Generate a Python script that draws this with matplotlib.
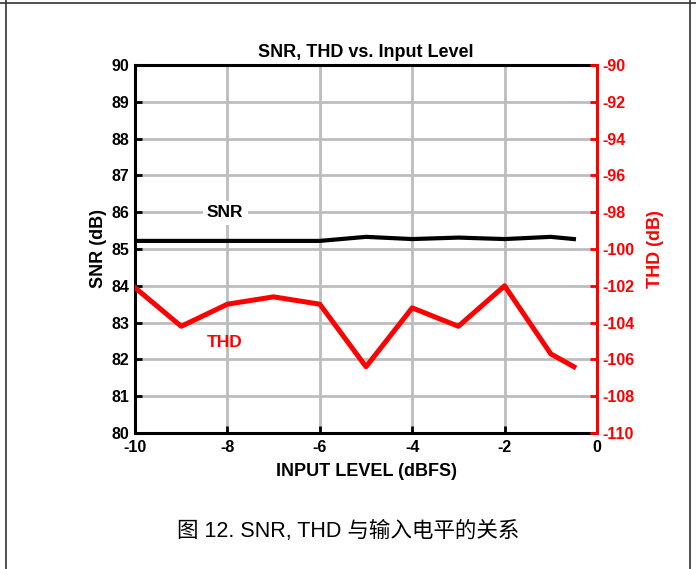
import matplotlib
matplotlib.use("Agg")
import matplotlib.pyplot as plt
from matplotlib.lines import Line2D

input_level = [-10, -9, -8, -7, -6, -5, -4, -3, -2, -1, -0.5]
snr_db = [85.22, 85.22, 85.22, 85.22, 85.22, 85.33, 85.27, 85.31, 85.27, 85.33, 85.27]
thd_db = [-102.1, -104.2, -103.0, -102.6, -103.0, -106.4, -103.2, -104.2, -102.0, -105.7, -106.4]
x_ticks = [-10, -8, -6, -4, -2, 0]
snr_ticks = list(range(80, 91))
thd_ticks = list(range(-110, -89, 2))

plt.rcParams['font.family'] = ['Liberation Sans', 'Noto Sans CJK SC', 'DejaVu Sans']

fig = plt.figure(figsize=(6.96, 5.69), dpi=100)
ax = fig.add_axes([135/696, 1 - 433/569, (597-135)/696, (433-65)/569])
ax2 = ax.twinx()

grid_c = '#bdbdbd'
for xv in x_ticks[1:-1]:
    ax.axvline(xv, color=grid_c, lw=2, zorder=1)
for yv in snr_ticks[1:-1]:
    ax.axhline(yv, color=grid_c, lw=2, zorder=1)

ax.plot(input_level, snr_db, color='black', lw=3, zorder=3)
ax2.plot(input_level, thd_db, color='#ff0000', lw=3.6, zorder=3)

ax.set_xlim(-10, 0)
ax.set_ylim(80, 90)
ax2.set_ylim(-110, -90)
ax.set_xticks(x_ticks)
ax.set_yticks(snr_ticks)
ax2.set_yticks(thd_ticks)
tfs = 11.5
ax.set_xticklabels([str(v) for v in x_ticks], fontweight='bold', fontsize=tfs)
ax.set_yticklabels([str(v) for v in snr_ticks], fontweight='bold', fontsize=tfs)
ax2.set_yticklabels([str(v) for v in thd_ticks], fontweight='bold', fontsize=tfs, color='#ff0000')

ax.tick_params(axis='both', direction='in', length=5, width=2, color='black', pad=4)
ax.tick_params(axis='x', pad=5)
ax2.tick_params(axis='y', direction='in', length=5, width=2, color='#ff0000', pad=4)

for s in ['top', 'bottom', 'left']:
    ax.spines[s].set_linewidth(2.2)
    ax.spines[s].set_color('black')
ax.spines['right'].set_visible(False)
for s in ['top', 'bottom', 'left']:
    ax2.spines[s].set_visible(False)
ax2.spines['right'].set_linewidth(2.2)
ax2.spines['right'].set_color('#ff0000')
ax2.spines['right'].set_zorder(5)

lfs = 13
ax.set_xlabel('INPUT LEVEL (dBFS)', fontweight='bold', fontsize=lfs, labelpad=6)
ax.set_ylabel('SNR (dB)', fontweight='bold', fontsize=lfs, labelpad=3)
ax2.set_ylabel('THD (dB)', fontweight='bold', fontsize=lfs, color='#ff0000', labelpad=9)
ax.set_title('SNR, THD vs. Input Level', fontweight='bold', fontsize=13, pad=6)

ax.text(-8.05, 85.98, 'SNR', fontweight='bold', fontsize=12.5, ha='center', va='center',
        zorder=4, bbox=dict(facecolor='white', edgecolor='none', pad=3))
ax.text(-8.05, 82.45, 'THD', fontweight='bold', fontsize=12.5, color='#ff0000',
        ha='center', va='center', zorder=4)

fig.text(348/696, 1 - 531/569, '图 12. SNR, THD 与输入电平的关系', fontsize=15.5,
         ha='center', va='center', family=['Liberation Sans', 'Noto Sans CJK SC'])

# outer frame
fig.add_artist(Line2D([0, 1], [1 - 3/569, 1 - 3/569], transform=fig.transFigure, color='#333333', lw=1.2))
fig.add_artist(Line2D([6/696, 6/696], [0, 1], transform=fig.transFigure, color='#333333', lw=1.2))
fig.add_artist(Line2D([690/696, 690/696], [0, 1], transform=fig.transFigure, color='#333333', lw=1.2))

fig.savefig('out.png', dpi=100)
